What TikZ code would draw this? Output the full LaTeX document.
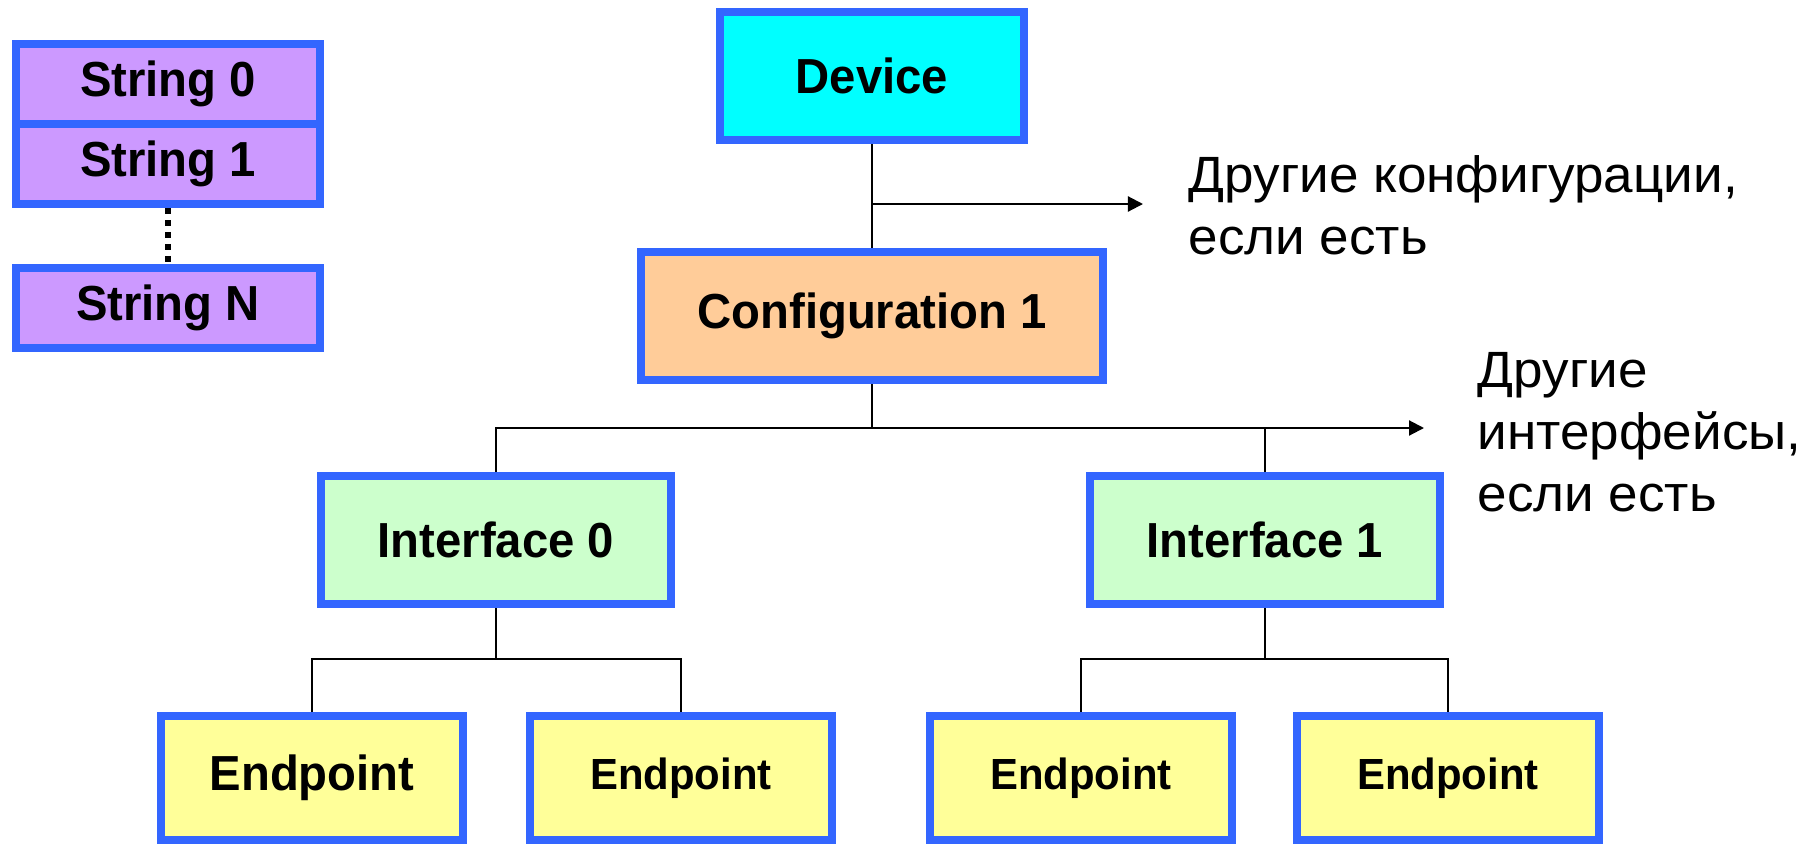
\documentclass[tikz,border=0pt]{standalone}
\usepackage{fontspec}
\setmainfont{Liberation Sans}
\newfontfamily\boxfont[FakeStretch=0.96]{Liberation Sans}
\newfontfamily\notefont[FakeStretch=1.04]{Liberation Sans}
\usetikzlibrary{arrows.meta}

\definecolor{rim}{HTML}{3366FF}
\definecolor{strfill}{HTML}{CC99FF}
\definecolor{devfill}{HTML}{00FFFF}
\definecolor{cfgfill}{HTML}{FFCC99}
\definecolor{iffill}{HTML}{CCFFCC}
\definecolor{epfill}{HTML}{FFFF99}

\begin{document}
\begin{tikzpicture}[x=0.01cm, y=-0.01cm,
		box/.style={draw=rim, line width=2.3pt, inner sep=0pt, font=\boxfont\fontsize{14}{16}\selectfont\bfseries},
		strbox/.style={box, fill=strfill, minimum width=3.04cm, minimum height=0.80cm},
		epbox/.style={box, fill=epfill, minimum width=3.02cm, minimum height=1.24cm},
		smallep/.style={epbox, font=\boxfont\fontsize{12.4}{14}\selectfont\bfseries},
		link/.style={line width=0.6pt},
		more/.style={link, -{Triangle[length=0.15cm, width=0.15cm]}},
		note/.style={align=left, inner sep=0pt, font=\notefont\fontsize{14.5}{17.6}\selectfont}]
				\useasboundingbox (0,0) rectangle (1811,845);
				
				% Descrittori di stringa
				\node[strbox] (str0) at (168,84) {String 0};
				\node[strbox] (str1) at (168,164) {String 1};
				\node[strbox] (strN) at (168,308) {String N};
				\draw[line width=1.7pt, dash pattern=on 1.7pt off 1.7pt] (str1) -- (strN);
				
				% Albero dei descrittori
				\node[box, fill=devfill, minimum width=3.04cm, minimum height=1.28cm] (dev) at (872,76) {Device};
				\node[box, fill=cfgfill, minimum width=4.62cm, minimum height=1.28cm] (cfg) at (872,316) {Configuration 1};
				\node[box, fill=iffill, minimum width=3.50cm, minimum height=1.28cm] (if0) at (496,540) {Interface 0};
				\node[box, fill=iffill, minimum width=3.50cm, minimum height=1.28cm] (if1) at (1265,540) {Interface 1};
				\node[epbox] (ep1) at (312,778) {Endpoint};
				\node[smallep] (ep2) at (681,778) {Endpoint};
				\node[smallep] (ep3) at (1081,778) {Endpoint};
				\node[smallep] (ep4) at (1448,778) {Endpoint};
				
				% Punti di diramazione
				\coordinate (cfgbr) at (872,204);
				\coordinate (cfgmore) at (1143,204);
				\coordinate (ifbus) at (872,428);
				\coordinate (ifmore) at (1424,428);
				\coordinate (epbus0) at (496,659);
				\coordinate (epbus1) at (1265,659);
				
				% Collegamenti
				\draw[link] (dev) -- (cfg);
				\draw[more] (cfgbr) -- (cfgmore);
				\draw[link] (cfg) -- (ifbus);
				\draw[more] (if0.north) |- (ifmore);
				\draw[link] (if1.north) -- (if1.north |- ifbus);
				\draw[link] (if0) -- (epbus0);
				\draw[link] (ep1.north) |- (epbus0) -| (ep2.north);
				\draw[link] (if1) -- (epbus1);
				\draw[link] (ep3.north) |- (epbus1) -| (ep4.north);
				
				% Note
				\node[note, anchor=north west] (morecfg) at (1188,155) {Другие конфигурации,\\если есть};
				\node[note, anchor=north west] (moreif) at (1477,352) {Другие\\интерфейсы,\\если есть};
			\end{tikzpicture}
\end{document}
